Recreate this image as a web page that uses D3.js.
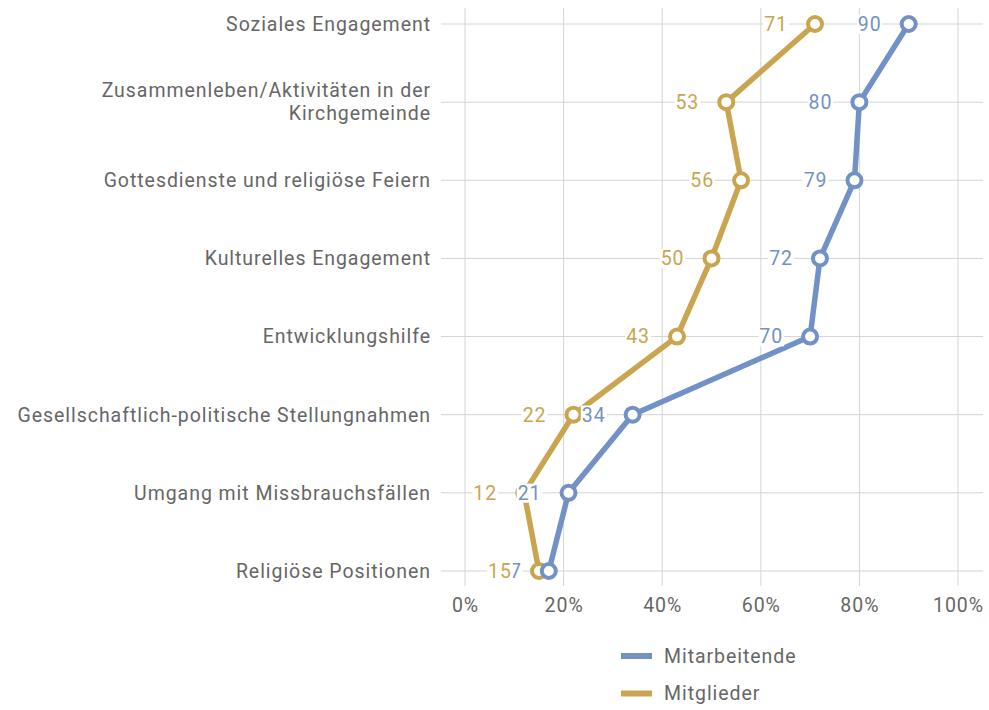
<!DOCTYPE html>
<html><head><meta charset="utf-8">
<script src="https://cdn.jsdelivr.net/npm/d3@7"></script>
<style>
html,body{margin:0;padding:0;background:#fff;}
svg{display:block;}
text{font-family:Roboto,"Noto Sans",sans-serif;letter-spacing:0.95px;}
</style></head>
<body><svg id="chart" width="989" height="710"></svg>
<script>
const categories = [
  ["Soziales Engagement"],
  ["Zusammenleben/Aktivitäten in der","Kirchgemeinde"],
  ["Gottesdienste und religiöse Feiern"],
  ["Kulturelles Engagement"],
  ["Entwicklungshilfe"],
  ["Gesellschaftlich-politische Stellungnahmen"],
  ["Umgang mit Missbrauchsfällen"],
  ["Religiöse Positionen"]
];
const mitarbeitende = [90, 80, 79, 72, 70, 34, 21, 17];
const mitglieder = [71, 53, 56, 50, 43, 22, 12, 15];
const xTicks = [0, 20, 40, 60, 80, 100];
const seriesNames = ["Mitarbeitende", "Mitglieder"];
const colors = {"Mitarbeitende": "#7291c6", "Mitglieder": "#c9a550"};

const svg = d3.select("#chart");
const x = d3.scaleLinear().domain([0, 100]).range([465, 958]);
const y = d3.scalePoint().domain(d3.range(categories.length)).range([24, 571]);
const textColor = "#666";
const gridColor = "#d4d4d4";
const fs = 19.5;

// grid
const g = svg.append("g");
g.selectAll("line.v").data(xTicks).enter().append("line")
  .attr("x1", d => x(d)).attr("x2", d => x(d)).attr("y1", 8).attr("y2", 586)
  .attr("stroke", gridColor).attr("stroke-width", 1);
g.selectAll("line.h").data(d3.range(categories.length)).enter().append("line")
  .attr("x1", 441).attr("x2", 983).attr("y1", d => y(d)).attr("y2", d => y(d))
  .attr("stroke", gridColor).attr("stroke-width", 1);

// x axis labels
const xAxis = d3.axisBottom(x).tickValues(xTicks).tickFormat(d => d + "%").tickSize(0).tickPadding(0);
const xa = svg.append("g").attr("transform", "translate(0,598)").call(xAxis);
xa.select(".domain").remove();
xa.selectAll("text").attr("font-size", fs).attr("fill", textColor).attr("dy", "0.71em")
  .style("font-family", "Roboto, sans-serif");

// y labels
const yl = svg.append("g");
categories.forEach((lines, i) => {
  const t = yl.append("text").attr("text-anchor", "end").attr("font-size", fs)
    .attr("fill", textColor).attr("x", 431);
  const lh = 23;
  const start = y(i) - (lines.length - 1) * lh / 2;
  lines.forEach((ln, j) => {
    t.append("tspan").attr("x", 431).attr("y", start + j * lh).attr("dy", "0.35em").text(ln);
  });
});

const line = d3.line().x(d => x(d.v)).y(d => y(d.i));
function drawSeries(vals, name) {
  const c = colors[name];
  const data = vals.map((v, i) => ({v, i}));
  svg.append("path").datum(data).attr("d", line).attr("fill", "none")
    .attr("stroke", c).attr("stroke-width", 5.5).attr("stroke-linejoin", "round");
  svg.append("g").selectAll("circle").data(data).enter().append("circle")
    .attr("cx", d => x(d.v)).attr("cy", d => y(d.i)).attr("r", 7)
    .attr("fill", "#fff").attr("stroke", c).attr("stroke-width", 4);
}
function drawLabels(vals, name) {
  const c = colors[name];
  const lg = svg.append("g");
  vals.forEach((v, i) => {
    const gg = lg.append("g");
    const bg = gg.append("rect").attr("fill", "#fff");
    const t = gg.append("text").attr("x", x(v) - 27).attr("y", y(i)).attr("dy", "0.35em")
      .attr("text-anchor", "end").attr("font-size", fs).attr("fill", c).text(v);
    const bb = t.node().getBBox();
    bg.attr("x", bb.x - 1).attr("y", bb.y + 2).attr("width", bb.width + 2).attr("height", bb.height - 4);
  });
}
drawSeries(mitglieder, "Mitglieder");
drawSeries(mitarbeitende, "Mitarbeitende");
drawLabels(mitarbeitende, "Mitarbeitende");
drawLabels(mitglieder, "Mitglieder");

// legend
const leg = svg.append("g");
seriesNames.forEach((n, i) => {
  const yy = 656 + i * 37.5;
  leg.append("line").attr("x1", 621).attr("x2", 652).attr("y1", yy).attr("y2", yy)
    .attr("stroke", colors[n]).attr("stroke-width", 6);
  leg.append("text").attr("x", 664).attr("y", yy).attr("dy", "0.35em")
    .attr("font-size", fs).attr("fill", textColor).text(n);
});
</script></body></html>
